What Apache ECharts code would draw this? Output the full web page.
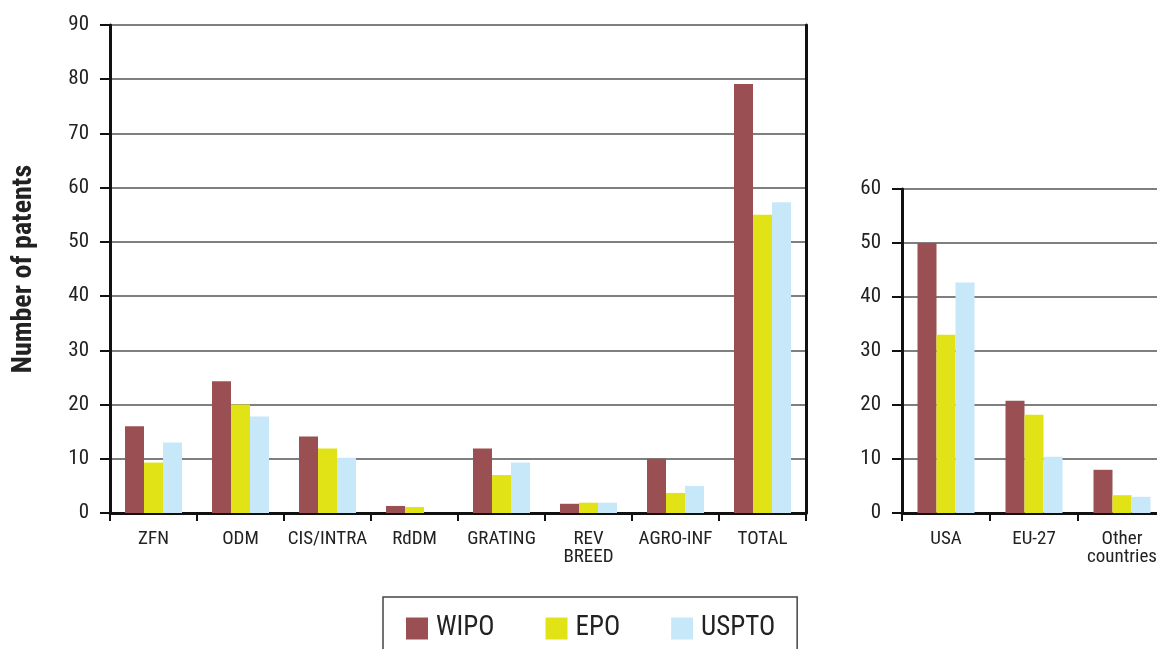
<!DOCTYPE html>
<html>
<head>
<meta charset="utf-8">
<script src="https://cdn.jsdelivr.net/npm/echarts@6/dist/echarts.min.js"></script>
<style>
html,body{margin:0;padding:0;background:#fff;}
#c{width:1157px;height:649px;}
</style>
</head>
<body>
<div id="c"></div>
<script>
var categoriesTech = ['ZFN', 'ODM', 'CIS/INTRA', 'RdDM', 'GRATING', 'REV\nBREED', 'AGRO-INF', 'TOTAL'];
var wipoTech = [16, 24.3, 14.1, 1.3, 11.9, 1.7, 10, 79.1];
var epoTech = [9.3, 20, 11.9, 1.1, 7, 1.9, 3.7, 55];
var usptoTech = [13, 17.8, 10.2, 0, 9.3, 1.9, 5, 57.3];

var categoriesRegion = ['USA', 'EU-27', 'Other\ncountries'];
var wipoRegion = [50, 20.8, 8];
var epoRegion = [33, 18.2, 3.3];
var usptoRegion = [42.7, 10.4, 3];

var seriesNames = ['WIPO', 'EPO', 'USPTO'];
var yTitle = 'Number of patents';

var FONT = '"Liberation Sans Narrow", "Roboto Condensed", "DejaVu Sans Condensed", "Liberation Sans", sans-serif';
var COLORS = ['#9a5052', '#e2e317', '#c6e8f8'];
var TEXT = '#222';

function xAxis(cats, gridIndex) {
  return {
    type: 'category', gridIndex: gridIndex, data: cats,
    axisLine: {show: true, lineStyle: {color: '#111', width: 3}},
    axisTick: {show: true, length: 8, lineStyle: {color: '#111', width: 2}},
    axisLabel: {color: TEXT, fontSize: 19, fontFamily: FONT, margin: 17, lineHeight: 18, interval: 0}
  };
}
function yAxis(max, gridIndex, withName) {
  var a = {
    type: 'value', gridIndex: gridIndex, min: 0, max: max, interval: 10,
    axisLine: {show: true, onZero: false, lineStyle: {color: '#111', width: 3}},
    axisTick: {show: true, length: 10, lineStyle: {color: '#111', width: 2}},
    axisLabel: {color: TEXT, fontSize: 21, fontFamily: FONT, margin: 21},
    splitLine: {show: true, lineStyle: {color: '#555', width: 1.5}}
  };
  if (withName) {
    a.name = yTitle;
    a.nameLocation = 'middle';
    a.nameGap = 72;
    a.nameRotate = 90;
    a.nameTextStyle = {color: TEXT, fontSize: 28, fontWeight: 'bold', fontFamily: FONT};
  }
  return a;
}

var techVals = [wipoTech, epoTech, usptoTech];
var regionVals = [wipoRegion, epoRegion, usptoRegion];
var series = [];
seriesNames.forEach(function (n, i) {
  series.push({name: n, type: 'bar', xAxisIndex: 0, yAxisIndex: 0, data: techVals[i],
    barWidth: 19, barGap: '0%', itemStyle: {color: COLORS[i]}, animation: false});
});
seriesNames.forEach(function (n, i) {
  series.push({name: n, type: 'bar', xAxisIndex: 1, yAxisIndex: 2, data: regionVals[i],
    barWidth: 19, barGap: '0%', itemStyle: {color: COLORS[i]}, animation: false});
});

var chart = echarts.init(document.getElementById('c'), null, {renderer: 'canvas'});
chart.setOption({
  animation: false,
  backgroundColor: '#fff',
  textStyle: {fontFamily: FONT},
  grid: [
    {left: 110, top: 25, width: 696, height: 488, containLabel: false, outerBoundsMode: 'none'},
    {left: 902, top: 189, width: 264, height: 324, containLabel: false, outerBoundsMode: 'none'}
  ],
  xAxis: [xAxis(categoriesTech, 0), xAxis(categoriesRegion, 1)],
  yAxis: [
    yAxis(90, 0, true),
    {type: 'value', gridIndex: 0, position: 'right', min: 0, max: 90, interval: 10,
     axisLine: {show: true, lineStyle: {color: '#111', width: 3}},
     axisTick: {show: false}, axisLabel: {show: false}, splitLine: {show: false}},
    yAxis(60, 1, false)
  ],
  legend: {
    data: seriesNames,
    left: 383, top: 597,
    orient: 'horizontal',
    icon: 'rect',
    itemWidth: 22, itemHeight: 22, itemGap: 51,
    padding: [18, 22, 20, 23],
    borderColor: '#444', borderWidth: 1.5,
    selectedMode: false,
    textStyle: {color: TEXT, fontSize: 27, fontFamily: FONT, padding: [0, 0, 0, 3]}
  },
  series: series
});
</script>
</body>
</html>
